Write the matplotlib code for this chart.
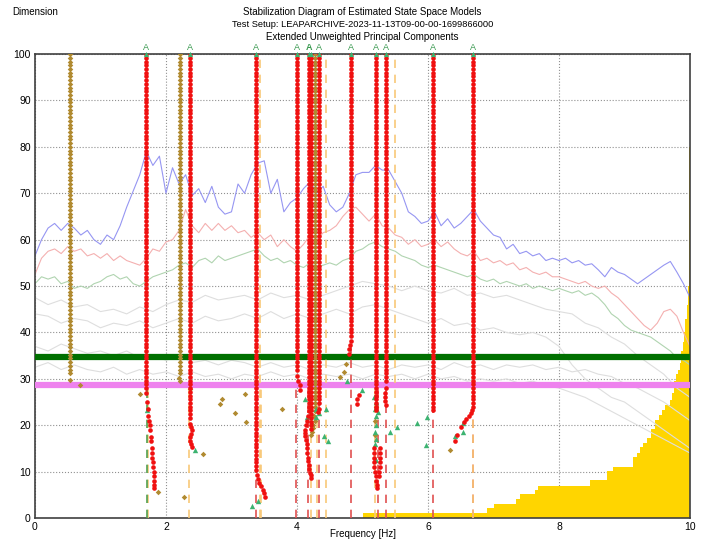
import numpy as np
import matplotlib.pyplot as plt

plt.rcParams['font.family'] = ['Liberation Sans', 'DejaVu Sans']

# singular value spectra, 0.1 Hz resolution
freq_fine = np.round(np.arange(0, 10.01, 0.1), 2)
sv1 = [56.5, 60, 62.5, 63.5, 62, 63.5, 62.5, 61, 62, 60,
       59, 61, 60, 63, 67, 70.5, 74, 79, 76, 78,
       70, 75.5, 72, 74, 69.5, 71, 68, 71.5, 67, 65.5,
       66, 72, 70, 74, 76.5, 77, 70, 73, 66, 68,
       69, 71, 72.5, 70, 71.5, 67.5, 66, 67, 70, 74,
       74.5, 74.5, 76, 75, 75, 72.5, 70, 66, 65, 63.5,
       64, 66, 63, 64.5, 62.5, 63.5, 65, 66.5, 64, 62.5,
       61, 60.5, 58, 59, 57, 57.5, 56.5, 57, 55.5, 56,
       55.5, 56, 55, 55.5, 54.5, 54.8, 53.5, 52, 54, 53,
       52.5, 51.5, 50.5, 51.5, 52.5, 53.5, 54.5, 55.3, 53, 50.5,
       47.5]
sv2 = [52.5, 56, 57.5, 58, 57, 58.5, 57.5, 58, 56.5, 57,
       56, 57, 55.5, 56.5, 55.5, 55, 54.5, 56, 58, 57.5,
       59.5, 60, 62, 66.5, 63, 61.5, 63.5, 62, 63.5, 62,
       63, 61.5, 62, 60.5, 61.5, 60, 61, 58.5, 60, 58.5,
       57.5, 59, 61, 60, 61.5, 62, 63, 65, 66.5, 67,
       65.5, 64, 65.5, 63, 62.5, 61, 60.5, 59, 60, 58.5,
       59, 60, 58.5, 59.5, 58, 57, 56.5, 57.5, 55.5, 56,
       55, 55.5, 54.5, 55, 53.5, 54, 53, 52.5, 53, 52,
       52, 51.5, 51, 50.5, 51, 50, 49.5, 50, 48.5, 47.5,
       46, 44.5, 43, 41.5, 40.5, 42, 44.5, 45, 43.5, 40,
       37]
sv3 = [50.5, 52, 51.5, 52, 50.5, 51, 49.5, 50, 49.5, 50.5,
       51, 52, 52.5, 51.5, 52, 50.5, 50, 51, 52, 52.5,
       53, 53.5, 54.5, 55, 54, 55.5, 56, 55, 56.5, 55.5,
       56, 56.5, 57, 57.5, 58, 56.5, 55.5, 56, 55, 55.5,
       54.5, 54, 55, 54, 54.5, 55, 54.5, 55.5, 56, 57.5,
       58, 59, 59.5, 58.5, 58, 57.5, 56.5, 56, 55.5, 54.5,
       54, 54.5, 54, 53.5, 53, 52.5, 52, 52.5, 51.5, 51,
       51.5, 50.5, 51, 50.5, 50, 50.5, 49.5, 50, 49.5, 49,
       49.5, 49, 48.5, 49, 48, 48.5, 47.5, 46, 44, 43,
       41.5, 40.5, 40, 39.5, 39, 38, 37, 36, 34.5, 34,
       33]

# lower singular values, 0.2 Hz resolution
freq_coarse = np.round(np.arange(0, 10.01, 0.2), 2)
sv4 = [47.5, 46, 47, 45.5, 46, 44.5, 45, 44, 45.5, 44.5,
       46, 47, 46.5, 48, 47, 47.5, 48, 47, 48.5, 47.5,
       48, 47, 48, 49, 50, 51, 50.5, 50, 49, 50,
       49, 48.5, 49.5, 48, 48.5, 47.5, 48, 47, 46, 45,
       44.5, 44, 42, 41, 39, 37.5, 35, 33, 31, 28,
       26]
sv5 = [44, 43.5, 42, 43, 42.5, 41, 42, 41.5, 42.5, 41,
       42, 43, 42, 43.5, 42.5, 43, 44, 43, 44.5, 43,
       44, 43, 44, 45, 44, 45.5, 46, 45, 44, 43,
       42, 43, 41.5, 42, 40.5, 41, 40, 39.5, 40, 39,
       37, 33, 30, 28, 26, 25, 23, 21, 19, 17,
       15]
sv6 = [37, 36, 37.5, 36.5, 35.5, 36, 35, 36, 34.5, 35,
       34, 35, 33.5, 34, 33, 34, 33.5, 32.5, 33.5, 32.5,
       33, 32, 33, 32.5, 33.5, 32.5, 33, 32, 33, 32.5,
       33, 32, 33.5, 32.5, 33, 32, 33, 32.5, 33, 32,
       32.5, 31.5, 32, 31, 30.5, 29, 28, 26.5, 25, 23,
       21]
sv7 = [32.5, 33.5, 32, 33, 32, 31.5, 32.5, 31, 32, 31,
       31.5, 30.5, 31.5, 30.5, 31, 30, 31, 30.5, 31.5, 30.5,
       31, 30, 31, 30.5, 31, 30, 31, 30.5, 31, 30,
       31, 30, 30.5, 29.5, 30, 29.5, 30, 29, 29.5, 28.5,
       28, 27, 26, 24.5, 23, 21.5, 20, 18.5, 17, 15.5,
       14]

# pole count histogram (step heights)
hist_freq = [5.01, 6.90, 7.01, 7.34, 7.41, 7.63, 7.68, 8.48, 8.74, 8.83,
             9.13, 9.19, 9.24, 9.29, 9.34, 9.41, 9.47, 9.52, 9.57, 9.62,
             9.69, 9.72, 9.75, 9.78, 9.81, 9.84, 9.87, 9.89, 9.91, 9.93,
             9.95, 9.97, 9.98, 9.99, 9.995, 10.0]
hist_count = [1.1, 2.1, 3.0, 4.0, 5.1, 6.0, 7.0, 8.2, 10.1, 11.1,
              13.1, 14.1, 15.2, 16.2, 17.2, 19.1, 21.1, 22.2, 23.3, 24.4,
              25.4, 27, 29.5, 31, 32, 33.5, 36, 38, 40, 43,
              46, 50, 60, 80, 100, 100]

model_orders = np.round(np.arange(100, 0, -0.8), 1)

# stable modes: frequency, lowest stable order, drifting poles below it
stable_modes = [
    (1.70, 28, [(1.70, 27), (1.71, 25), (1.72, 23.5), (1.73, 22), (1.74, 21), (1.75, 20),
                (1.76, 19), (1.77, 17.5), (1.77, 16.5), (1.78, 15), (1.78, 14), (1.79, 13),
                (1.80, 12), (1.80, 11), (1.81, 10), (1.81, 9), (1.82, 8), (1.82, 7.2), (1.82, 6.4)]),
    (2.36, 21, [(2.36, 20.2), (2.38, 19.6), (2.40, 19), (2.38, 18.2), (2.37, 17.4),
                (2.37, 16.6), (2.38, 16), (2.39, 15.4)]),
    (3.38, 10, [(3.39, 9.2), (3.40, 8.4), (3.42, 7.6), (3.45, 6.8), (3.48, 6),
                (3.49, 5.4), (3.51, 4.6)]),
    (4.00, 31.5, [(4.00, 30.6), (4.02, 29.6), (4.04, 28.7), (4.05, 27.7)]),
    (4.18, 24, [(4.18, 23), (4.17, 22), (4.16, 21), (4.14, 20), (4.13, 19), (4.12, 18.4),
                (4.13, 17.6), (4.14, 16.8), (4.15, 16), (4.16, 15), (4.16, 14), (4.17, 13),
                (4.17, 12.2), (4.18, 11.4), (4.19, 10.6), (4.20, 9.8), (4.21, 9.2), (4.22, 8.6)]),
    (4.21, 19, []),
    (4.34, 24.5, [(4.33, 23.6), (4.32, 22.8)]),
    (4.83, 39, [(4.82, 38.2), (4.81, 37.4), (4.80, 36.4), (4.79, 35.4),
                (4.94, 26.5), (4.91, 25.6), (4.92, 24.6)]),
    (5.21, 23, [(5.18, 15), (5.18, 14), (5.18, 13), (5.18, 12), (5.18, 11), (5.19, 10),
                (5.20, 9), (5.21, 8), (5.22, 7.2), (5.22, 6.4),
                (5.26, 15), (5.26, 14), (5.27, 13), (5.27, 12), (5.26, 11), (5.25, 10), (5.25, 9)]),
    (5.36, 29, [(5.36, 28), (5.35, 27), (5.34, 26.1), (5.34, 25.2), (5.36, 24.4)]),
    (6.07, 23, []),
    (6.68, 24, [(6.67, 23.3), (6.65, 22.6), (6.62, 22), (6.58, 21.4), (6.55, 20.6),
                (6.50, 19.7), (6.45, 18), (6.41, 16.7)]),
]

# frequency-stable (damping unstable) modes
freq_modes = [
    (0.53, 30.8, [(0.54, 29.8), (0.69, 28.7)]),
    (2.21, 30.8, [(2.20, 30.2), (2.21, 29.6)]),
    (4.27, 24, [(4.27, 23), (4.26, 22), (4.27, 21), (4.25, 20), (4.24, 19.4),
                (4.23, 18.6), (4.22, 18)]),
]

brown_f = [1.60, 1.88, 2.27, 2.36, 2.57, 2.83, 2.86, 3.05, 3.20, 3.22, 3.77,
           4.75, 4.72, 4.66, 5.19, 5.19, 5.20, 6.33]
brown_d = [26.7, 5.7, 4.6, 27.8, 13.7, 24.6, 25.6, 22.6, 26.7, 20.6, 23.6,
           33.3, 31.5, 30.5, 21, 17.9, 24, 14.6]

tri_f = [2.45, 3.31, 3.40, 4.13, 4.15, 4.20, 4.29, 4.29, 4.34, 4.44, 4.41, 4.48,
         4.76, 5.00, 5.18, 5.20, 5.19, 5.21, 5.20, 5.19, 5.20, 5.19, 5.21, 5.24,
         5.42, 5.52, 5.83, 5.97, 5.99, 6.42, 6.53, 6.54, 1.71]
tri_d = [14.6, 2.6, 3.7, 25.6, 21.7, 28.7, 23.4, 21.7, 22.7, 23.6, 17.7, 16.7,
         29.6, 27.7, 26, 25, 23.6, 22, 20, 18.6, 17, 16, 12.5, 22.8,
         18.6, 19.7, 20.5, 15.7, 21.7, 17.7, 20.5, 18.6, 23.3]

# dashed markers: (frequency, top order)
red_dash = [(3.38, 28), (3.99, 28), (4.17, 28), (4.34, 28), (4.83, 37),
            (5.23, 28), (5.36, 28), (6.08, 28), (6.68, 28)]
orange_dash = [(1.72, 28), (2.35, 28), (3.45, 28), (4.22, 28), (4.30, 28),
               (5.19, 28), (6.69, 28), (3.44, 100), (4.44, 100), (5.50, 100)]
green_dash = [(1.71, 28)]


def mode_points(modes):
    xs, ys = [], []
    for f, low, tail in modes:
        for d in model_orders:
            if d >= low:
                xs.append(f)
                ys.append(d)
        for tf, td in tail:
            xs.append(tf)
            ys.append(td)
    return xs, ys


fig = plt.figure(figsize=(7.18, 5.41), dpi=100)
ax = fig.add_axes([0.0487, 0.0425, 0.9123, 0.8575])

ax.fill_between(hist_freq, hist_count, step='post', color='#FFD500', lw=0, zorder=1)

for s in (sv7, sv6, sv5, sv4):
    ax.plot(freq_coarse, s, color='#DEDEDE', lw=0.8, zorder=2)
ax.plot(freq_fine, sv3, color='#B0D4B0', lw=0.8, zorder=2)
ax.plot(freq_fine, sv2, color='#F4B0B0', lw=0.8, zorder=2)
ax.plot(freq_fine, sv1, color='#9696F2', lw=0.8, zorder=2)

ax.axhline(34.6, color='#007000', lw=4.5, zorder=3)
ax.axhline(28.7, color='#EE82EE', lw=4.5, zorder=3)

for f, top in red_dash:
    ax.plot([f, f], [0, top], color='#E05050', lw=1.2, ls=(0, (5, 4)), zorder=4)
for f, top in orange_dash:
    ax.plot([f, f], [0, top], color='#F8C878', lw=1.2, ls=(0, (5, 4)), zorder=4)
for f, top in green_dash:
    ax.plot([f, f], [0, top], color='#50A050', lw=1.2, ls=(0, (5, 4)), zorder=4)

bx, by = mode_points(freq_modes)
ax.scatter(bx, by, s=8, marker='D', color='#B08A30', lw=0, zorder=5)
ax.scatter(brown_f, brown_d, s=8, marker='D', color='#B08A30', lw=0, zorder=5)
ax.scatter(tri_f, tri_d, s=15, marker='^', color='#3CB371', lw=0, zorder=5)
rx, ry = mode_points(stable_modes)
ax.scatter(rx, ry, s=11, color='#F01010', lw=0, zorder=6)

# "A" flags above the stable modes; modes closer than 0.05 Hz share one bold flag
flag_freqs = []
for f, low, tail in stable_modes:
    ax.scatter([f], [100], s=14, marker='^', color='#3CB371', lw=0, zorder=7, clip_on=False)
    if flag_freqs and f - flag_freqs[-1][0] < 0.05:
        flag_freqs[-1][1] = True
    else:
        flag_freqs.append([f, False])
for f, double in flag_freqs:
    ax.text(f, 100.5, 'A', color='#3A9A50', fontsize=6.5, ha='center', va='bottom',
            fontweight='bold' if double else 'normal')

ax.set_xlim(0, 10)
ax.set_ylim(0, 100)
ax.set_xticks([0, 2, 4, 6, 8, 10])
ax.set_yticks(range(0, 101, 10))
ax.tick_params(labelsize=7.5, length=0, pad=3)
ax.grid(True, color='#909090', ls=':', lw=0.8)
ax.set_axisbelow(True)
for sp in ax.spines.values():
    sp.set_color('#404040')
    sp.set_linewidth(1.2)

fig.text(0.017, 0.978, 'Dimension', fontsize=7, va='center')
fig.text(0.505, 0.978, 'Stabilization Diagram of Estimated State Space Models', fontsize=7, ha='center', va='center')
fig.text(0.505, 0.954, 'Test Setup: LEAPARCHIVE-2023-11-13T09-00-00-1699866000', fontsize=6.7, ha='center', va='center')
fig.text(0.505, 0.931, 'Extended Unweighted Principal Components', fontsize=7, ha='center', va='center')
fig.text(0.505, 0.013, 'Frequency [Hz]', fontsize=7, ha='center', va='center')

fig.savefig('out.png', dpi=100)
